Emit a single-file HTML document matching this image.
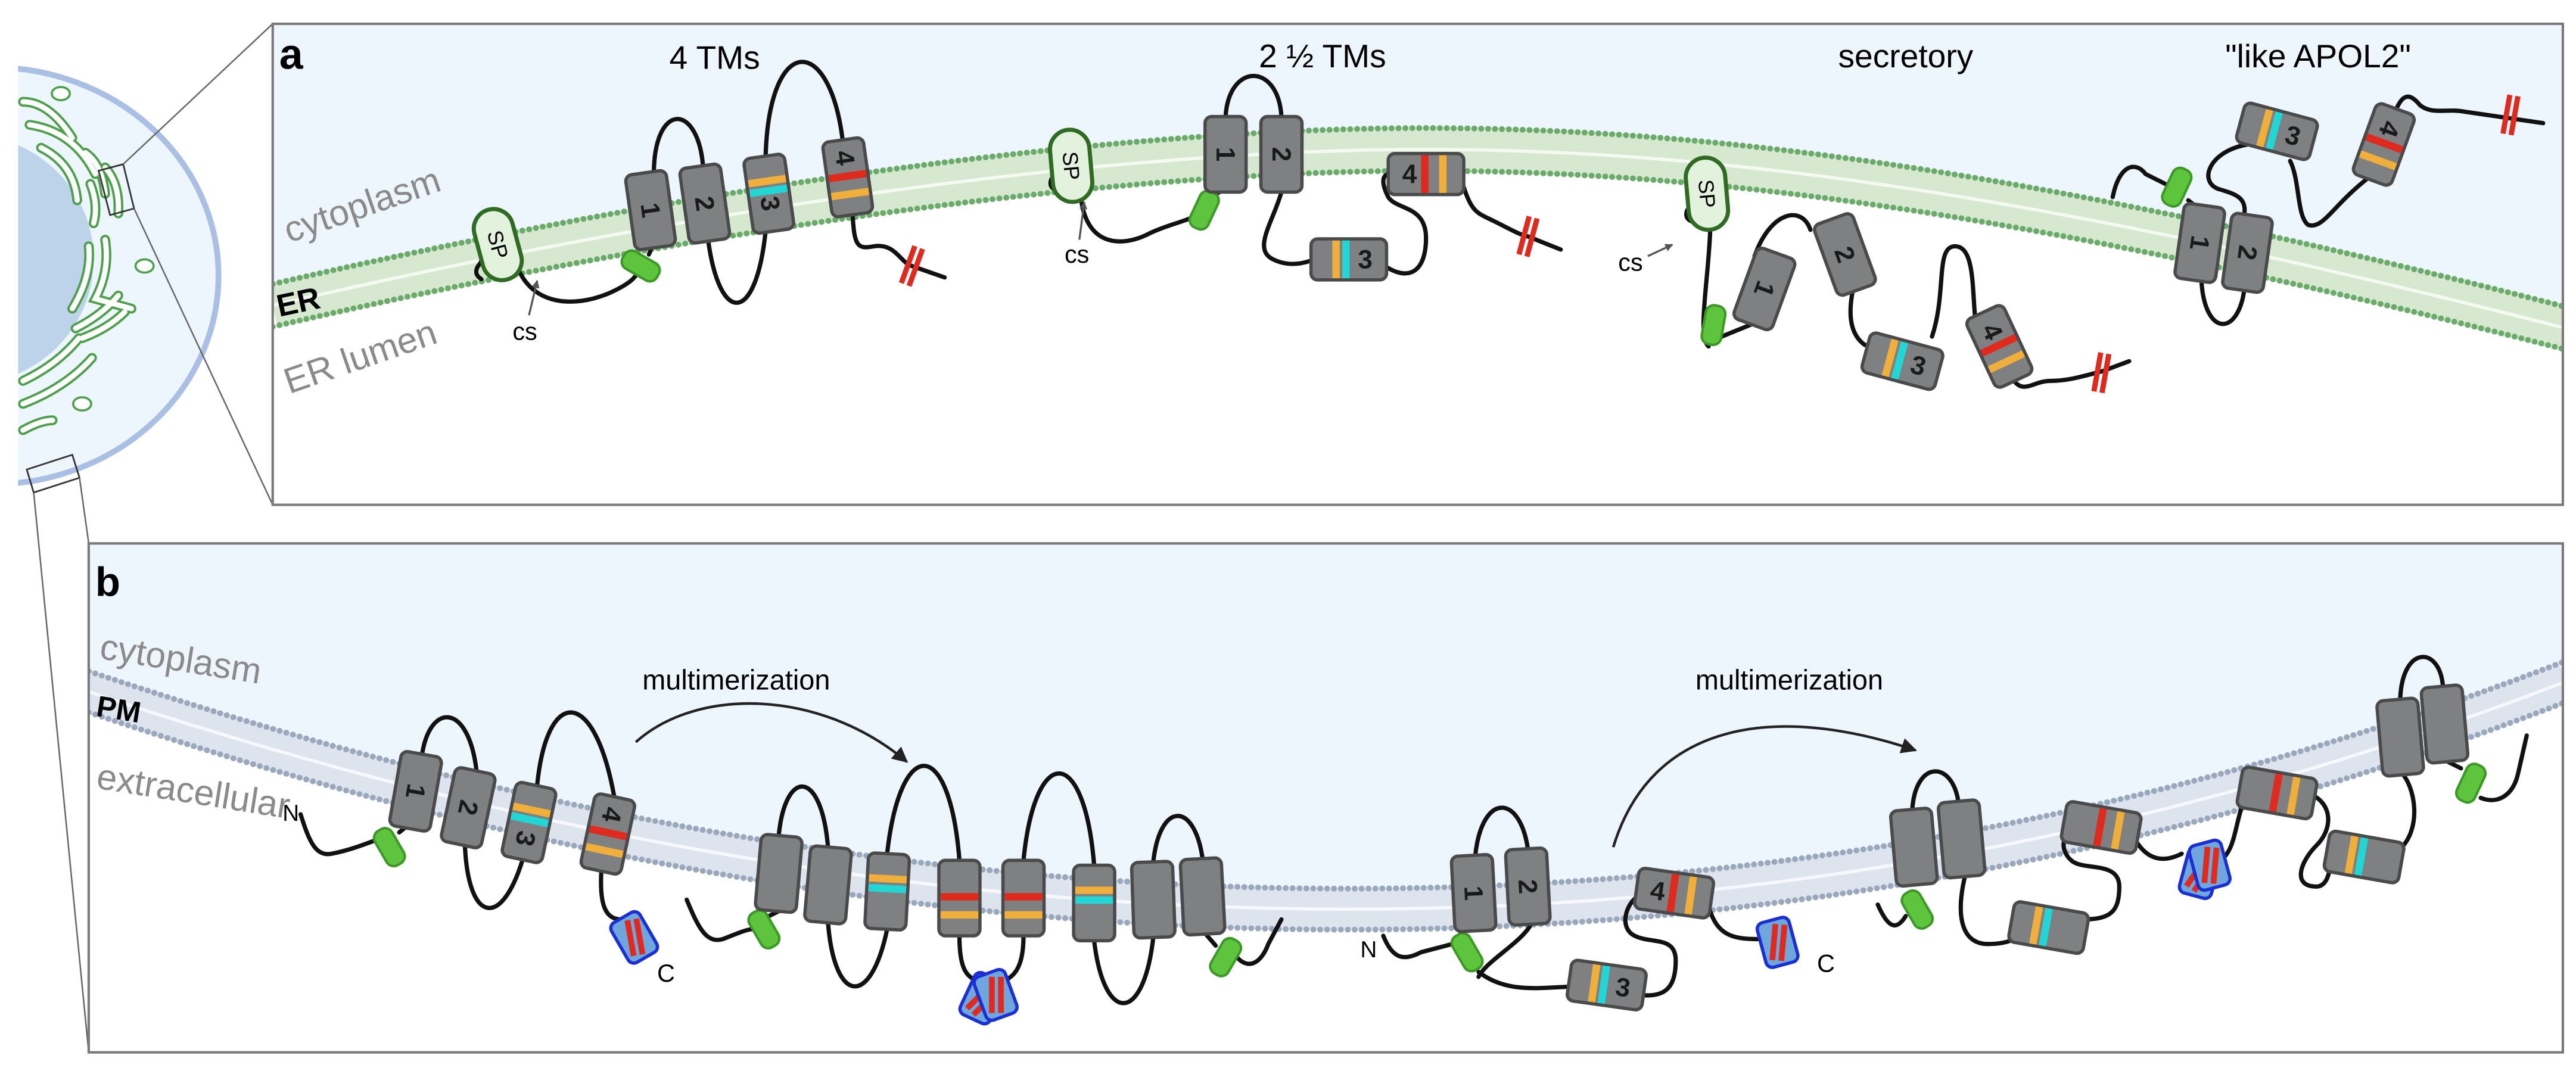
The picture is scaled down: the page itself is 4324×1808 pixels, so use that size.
<!DOCTYPE html>
<html><head><meta charset="utf-8"><style>html,body{margin:0;padding:0;background:#fff}svg{display:block}</style></head>
<body>
<svg width="4324" height="1808" viewBox="0 0 1568 656" preserveAspectRatio="none" xmlns="http://www.w3.org/2000/svg" font-family="Liberation Sans, Arial, sans-serif">
<defs>
<g id="tm"><rect x="-12.5" y="-23" width="25" height="46" rx="4" fill="#7e8082" stroke="#4a4a4a" stroke-width="2"/></g>
<g id="tm3"><rect x="-12.5" y="-23" width="25" height="46" rx="4" fill="#7e8082" stroke="#4a4a4a" stroke-width="2"/><rect x="-11.5" y="-10" width="23" height="4.5" fill="#f0ae3a"/><rect x="-11.5" y="-4" width="23" height="4.5" fill="#22d6d6"/></g>
<g id="tm4"><rect x="-12.5" y="-23" width="25" height="46" rx="4" fill="#7e8082" stroke="#4a4a4a" stroke-width="2"/><rect x="-11.5" y="-3" width="23" height="4.5" fill="#e02a1e"/><rect x="-11.5" y="8" width="23" height="4.5" fill="#f0ae3a"/></g>
<g id="gr"><rect x="-12" y="-6" width="24" height="12" rx="5" fill="#5ec43e" stroke="#3a9a25" stroke-width="1.5"/></g>
<g id="rt"><rect x="-4" y="-12" width="3.2" height="24" fill="#e02a1e"/><rect x="1" y="-12" width="3.2" height="24" fill="#e02a1e"/></g>
<g id="bl"><rect x="-10" y="-14" width="20" height="28" rx="4" fill="#6fa6dc" stroke="#1b2fd6" stroke-width="2"/><rect x="-11" y="-4" width="22" height="3.5" fill="#e02a1e" transform="rotate(-70)"/><rect x="-11" y="1.5" width="22" height="3.5" fill="#e02a1e" transform="rotate(-70)"/></g>
<marker id="ah" viewBox="0 0 10 10" refX="9" refY="5" markerWidth="6" markerHeight="6" orient="auto"><path d="M0,0 L10,5 L0,10 Z" fill="#222"/></marker>
<marker id="ah2" viewBox="0 0 10 10" refX="9" refY="5" markerWidth="4" markerHeight="4" orient="auto"><path d="M0,0 L10,5 L0,10 Z" fill="#555"/></marker>
<clipPath id="cellclip"><rect x="11" y="0" width="200" height="656"/></clipPath>
<clipPath id="pa"><rect x="166" y="14.5" width="1394" height="293"/></clipPath>
<clipPath id="pb"><rect x="54" y="331" width="1506" height="310"/></clipPath>
</defs>

<!-- Cell -->
<g clip-path="url(#cellclip)">
<ellipse cx="-5" cy="168" rx="138" ry="127" fill="#edf5fd" stroke="#a9c0e4" stroke-width="3.5"/>
<ellipse cx="-20" cy="158" rx="77" ry="76" fill="#bcd3ea"/>
<g fill="none" stroke-linecap="round">
<g stroke="#4da04a" stroke-width="6">
<path d="M14,62 Q30,62 44,84"/><path d="M18,76 Q45,80 58,106"/><path d="M25,90 Q45,100 47,122"/>
<path d="M52,93 Q62,100 64,118"/><path d="M64,102 Q73,112 72,130"/><path d="M55,112 Q60,125 57,136"/>
<path d="M54,150 Q56,168 44,188"/><path d="M64,146 Q67,165 58,182 L80,188"/><path d="M46,200 Q62,192 72,180"/>
<path d="M50,206 Q66,200 76,190"/><path d="M14,232 Q35,222 48,206"/><path d="M14,246 Q40,236 56,218"/><path d="M14,262 Q25,256 32,256"/>
</g>
<g stroke="#fff" stroke-width="3.2">
<path d="M14,62 Q30,62 44,84"/><path d="M18,76 Q45,80 58,106"/><path d="M25,90 Q45,100 47,122"/>
<path d="M52,93 Q62,100 64,118"/><path d="M64,102 Q73,112 72,130"/><path d="M55,112 Q60,125 57,136"/>
<path d="M54,150 Q56,168 44,188"/><path d="M64,146 Q67,165 58,182 L80,188"/><path d="M46,200 Q62,192 72,180"/>
<path d="M50,206 Q66,200 76,190"/><path d="M14,232 Q35,222 48,206"/><path d="M14,246 Q40,236 56,218"/><path d="M14,262 Q25,256 32,256"/>
</g>
<g stroke="#4da04a" stroke-width="1.3" fill="#fff"><ellipse cx="37" cy="57" rx="5.5" ry="4"/><ellipse cx="88" cy="162" rx="5.5" ry="4"/><ellipse cx="50" cy="246" rx="5.5" ry="4"/></g>
</g>
</g>
<path d="M60,104 L75,100 L81.6,127 L67,131 Z" fill="none" stroke="#333" stroke-width="1"/>
<path d="M16.3,286 L44,277 L48.4,291 L20.5,300 Z" fill="none" stroke="#333" stroke-width="1"/>
<g stroke="#666" stroke-width="0.9"><line x1="75" y1="100" x2="166" y2="14.5"/><line x1="81.6" y1="127" x2="166" y2="307.5"/><line x1="48.4" y1="291" x2="54" y2="331"/><line x1="20.5" y1="300" x2="54" y2="641"/></g>

<!-- Panel a -->
<g clip-path="url(#pa)">
<rect x="166" y="14.5" width="1394" height="293" fill="#fff"/>
<path d="M166,14 H1562 V200 C1250,120 1050,91 867,91 C700,91 450,120 166,186 Z" fill="#edf6fd"/>
<path d="M166,186 C450,120 700,91 867,91 C1050,91 1250,120 1562,200" fill="none" stroke="#d6e9d0" stroke-width="28"/>
<path d="M166,186 C450,120 700,91 867,91 C1050,91 1250,120 1562,200" fill="none" stroke="#f4faf2" stroke-width="2"/>
<path d="M166,173 C450,107 700,78 867,78 C1050,78 1250,107 1562,187" fill="none" stroke="#6aaa6a" stroke-width="3.6" stroke-dasharray="0 4.2" stroke-linecap="round"/>
<path d="M166,199 C450,133 700,104 867,104 C1050,104 1250,133 1562,213" fill="none" stroke="#6aaa6a" stroke-width="3.6" stroke-dasharray="0 4.2" stroke-linecap="round"/>

<text x="170" y="42" font-size="26" font-weight="bold">a</text>
<text x="435" y="42" font-size="20" text-anchor="middle">4 TMs</text>
<text x="805" y="41" font-size="20" text-anchor="middle">2 ½  TMs</text>
<text x="1160" y="41" font-size="20" text-anchor="middle">secretory</text>
<text x="1411" y="41" font-size="20" text-anchor="middle">"like APOL2"</text>
<text transform="translate(176,148) rotate(-19)" font-size="22" fill="#8a8a8a">cytoplasm</text>
<text transform="translate(170,193) rotate(-12)" font-size="19" font-weight="bold">ER</text>
<text transform="translate(176,240) rotate(-19)" font-size="22" fill="#8a8a8a">ER lumen</text>

<g fill="none" stroke="#111" stroke-width="2.6" stroke-linecap="round">
<path d="M293,170 q-5,-3 -2,-8 q4,-4 1,-9"/>
<path d="M312,152 C318,188 350,188 372,178 C385,172 388,168 390,162"/>
<path d="M395,155 L397,150"/>
<path d="M398,106 C398,62 425,62 428,102"/>
<path d="M431,146 C438,198 460,198 466,141"/>
<path d="M466,96 C468,20 505,20 513,86"/>
<path d="M519,131 C520,150 522,152 532,150 C545,148 548,160 555,162 L575,169"/>
<path d="M643,116 q-5,-2 -3,-7 q3,-3 1,-7"/>
<path d="M658,121 C662,152 685,150 700,142 C715,135 725,135 732,128"/>
<path d="M737,120 L744,116"/>
<path d="M746,71 C748,38 778,38 780,71"/>
<path d="M780,117 C775,135 762,152 775,158 C785,163 795,160 800,158"/>
<path d="M843,162 C858,172 868,165 868,145 C868,125 850,128 845,120 C840,110 842,106 846,106"/>
<path d="M891,114 C896,130 900,130 910,135 C920,140 925,143 930,144 L950,152"/>
<path d="M1030,135 q-5,-2 -3,-7 q3,-3 1,-7"/>
<path d="M1041,140 C1040,170 1033,205 1040,211"/>
<path d="M1048,205 L1070,196"/>
<path d="M1068,156 C1078,128 1097,125 1102,140"/>
<path d="M1128,176 C1124,195 1128,205 1135,210 C1140,212 1140,215 1140,218"/>
<path d="M1176,205 C1185,178 1178,150 1190,150 C1203,150 1200,180 1203,200"/>
<path d="M1226,232 C1232,240 1238,232 1248,232 C1258,232 1265,230 1280,226 L1296,220"/>
<path d="M1286,120 C1290,100 1300,98 1306,106 L1318,112"/>
<path d="M1332,122 L1337,126"/>
<path d="M1340,171 C1342,205 1362,205 1366,177"/>
<path d="M1366,131 C1368,120 1360,118 1350,115 C1338,110 1345,92 1368,88"/>
<path d="M1394,98 C1400,110 1398,132 1405,137 C1414,140 1420,125 1442,108"/>
<path d="M1458,68 C1463,55 1468,58 1473,64 C1480,70 1490,66 1500,68 L1548,75"/>
</g>

<g transform="translate(303,149) rotate(-15)"><rect x="-12" y="-22" width="24" height="44" rx="12" fill="#e2f2dc" stroke="#2f6b22" stroke-width="2.5"/><text transform="rotate(90)" font-size="13" text-anchor="middle" y="4.5">SP</text></g>
<g transform="translate(652,101) rotate(-5)"><rect x="-12" y="-22" width="24" height="44" rx="12" fill="#e2f2dc" stroke="#2f6b22" stroke-width="2.5"/><text transform="rotate(90)" font-size="13" text-anchor="middle" y="4.5">SP</text></g>
<g transform="translate(1039,118) rotate(-5)"><rect x="-12" y="-22" width="24" height="44" rx="12" fill="#e2f2dc" stroke="#2f6b22" stroke-width="2.5"/><text transform="rotate(90)" font-size="13" text-anchor="middle" y="4.5">SP</text></g>
<text x="312" y="207" font-size="15">cs</text>
<line x1="322" y1="192" x2="327" y2="171" stroke="#555" stroke-width="1.2" marker-end="url(#ah2)"/>
<text x="648" y="160" font-size="15">cs</text>
<line x1="657" y1="146" x2="660" y2="123" stroke="#555" stroke-width="1.2" marker-end="url(#ah2)"/>
<text x="985" y="165" font-size="15">cs</text>
<line x1="1003" y1="156" x2="1018" y2="149" stroke="#555" stroke-width="1.2" marker-end="url(#ah2)"/>

<use href="#gr" transform="translate(390,162) rotate(30)"/>
<use href="#gr" transform="translate(733,128) rotate(-65)"/>
<use href="#gr" transform="translate(1043,198) rotate(-80)"/>
<use href="#gr" transform="translate(1325,114) rotate(-65)"/>
<use href="#rt" transform="translate(555,162) rotate(20)"/>
<use href="#rt" transform="translate(930,144) rotate(15)"/>
<use href="#rt" transform="translate(1279,227) rotate(10)"/>
<use href="#rt" transform="translate(1528,70) rotate(10)"/>

<g font-size="16" font-weight="bold" fill="#1a1a1a" text-anchor="middle">
<g transform="translate(396,128) rotate(-8)"><use href="#tm"/><text transform="rotate(90)" y="5.5">1</text></g>
<g transform="translate(429,124) rotate(-8)"><use href="#tm"/><text transform="rotate(90)" y="5.5">2</text></g>
<g transform="translate(468,118) rotate(-8)"><use href="#tm3"/><text transform="rotate(90)" x="6" y="5.5">3</text></g>
<g transform="translate(516,108) rotate(-8)"><use href="#tm4"/><text transform="rotate(90)" x="-12" y="5.5">4</text></g>

<g transform="translate(746,94)"><use href="#tm"/><text transform="rotate(90)" y="5.5">1</text></g>
<g transform="translate(780,94)"><use href="#tm"/><text transform="rotate(90)" y="5.5">2</text></g>
<g transform="translate(821,158) rotate(-90)"><use href="#tm3"/><text transform="rotate(90)" x="10" y="5.5">3</text></g>
<g transform="translate(868,106) rotate(-90)"><use href="#tm4"/><text transform="rotate(90)" x="-10" y="5.5">4</text></g>

<g transform="translate(1074,176) rotate(20)"><use href="#tm"/><text transform="rotate(90)" y="5.5">1</text></g>
<g transform="translate(1123,155) rotate(-20)"><use href="#tm"/><text transform="rotate(90)" y="5.5">2</text></g>
<g transform="translate(1158,220) rotate(-75)"><use href="#tm3"/><text transform="rotate(90)" x="10" y="5.5">3</text></g>
<g transform="translate(1217,211) rotate(-25)"><use href="#tm4"/><text transform="rotate(90)" x="-10" y="5.5">4</text></g>

<g transform="translate(1339,148) rotate(8)"><use href="#tm"/><text transform="rotate(90)" y="5.5">1</text></g>
<g transform="translate(1368,154) rotate(8)"><use href="#tm"/><text transform="rotate(90)" y="5.5">2</text></g>
<g transform="translate(1386,80) rotate(-75)"><use href="#tm3"/><text transform="rotate(90)" x="10" y="5.5">3</text></g>
<g transform="translate(1451,88) rotate(20)"><use href="#tm4"/><text transform="rotate(90)" x="-10" y="5.5">4</text></g>
</g>
</g>
<rect x="166" y="14.5" width="1394" height="293" fill="none" stroke="#7a7a7a" stroke-width="1.5"/>

<!-- Panel b -->
<g clip-path="url(#pb)">
<rect x="54" y="331" width="1506" height="310" fill="#fff"/>
<path d="M54,331 H1562 V415 Q850,690 50,420 Z" fill="#edf6fd"/>
<path d="M50,420 Q850,690 1562,415" fill="none" stroke="#dde4ee" stroke-width="26"/>
<path d="M50,420 Q850,690 1562,415" fill="none" stroke="#f6f8fb" stroke-width="2"/>
<path d="M50,407.5 Q850,677.5 1562,402.5" fill="none" stroke="#9aa8bc" stroke-width="3.6" stroke-dasharray="0 4.2" stroke-linecap="round"/>
<path d="M50,432.5 Q850,702.5 1562,427.5" fill="none" stroke="#9aa8bc" stroke-width="3.6" stroke-dasharray="0 4.2" stroke-linecap="round"/>

<text x="58" y="363" font-size="25" font-weight="bold">b</text>
<text transform="translate(60,401) rotate(9)" font-size="22" fill="#8a8a8a">cytoplasm</text>
<text transform="translate(58,436) rotate(9)" font-size="18" font-weight="bold">PM</text>
<text transform="translate(58,480) rotate(9)" font-size="22" fill="#8a8a8a">extracellular</text>

<text x="391" y="420" font-size="17">multimerization</text>
<path d="M387,452 C425,418 500,420 552,464" fill="none" stroke="#222" stroke-width="1.6" marker-end="url(#ah)"/>
<text x="1032" y="420" font-size="17">multimerization</text>
<path d="M982,516 C1005,440 1080,428 1166,457" fill="none" stroke="#222" stroke-width="1.6" marker-end="url(#ah)"/>

<text x="172" y="500" font-size="14">N</text>
<text x="400" y="598" font-size="15">C</text>
<text x="828" y="583" font-size="14">N</text>
<text x="1106" y="592" font-size="15">C</text>

<g fill="none" stroke="#111" stroke-width="2.6" stroke-linecap="round">
<path d="M183,496 C188,512 192,522 202,520 C212,518 220,515 228,512"/>
<path d="M243,507 L248,503"/>
<path d="M257,459 C262,428 285,428 290,469"/>
<path d="M283,515 C285,562 305,566 318,524"/>
<path d="M327,478 C333,418 362,418 374,486"/>
<path d="M366,531 C365,550 368,560 378,560"/>
<path d="M418,548 C425,565 430,575 440,572 C450,568 455,566 458,566"/>
<path d="M468,558 L474,555"/>
<path d="M474,509 C478,468 500,468 504,516"/>
<path d="M540,520 C548,448 578,448 584,524"/>
<path d="M623,524 C630,453 660,453 666,527"/>
<path d="M702,525 C706,488 727,488 732,523"/>
<path d="M504,562 C508,612 530,614 540,566"/>
<path d="M666,573 C672,624 696,624 702,571"/>
<path d="M584,570 C584,590 588,595 596,598"/>
<path d="M623,570 C623,590 617,595 610,598"/>
<path d="M734,569 L740,576"/>
<path d="M752,582 C760,592 768,586 772,575 L780,560"/>
<path d="M842,570 C848,585 855,585 865,580 L884,575"/>
<path d="M898,521 C902,483 925,483 930,517"/>
<path d="M932,563 C925,575 905,585 900,595"/>
<path d="M900,592 C918,606 940,601 958,601"/>
<path d="M998,606 C1015,608 1020,600 1020,585 C1020,570 1005,575 995,570 C985,565 990,550 997,546"/>
<path d="M1040,552 C1045,570 1055,572 1070,572"/>
<path d="M1143,551 C1150,567 1155,566 1160,558"/>
<path d="M1164,493 C1166,463 1188,463 1192,488"/>
<path d="M1196,534 C1190,560 1195,575 1210,575 C1225,575 1230,570 1232,566"/>
<path d="M1268,560 C1285,560 1290,555 1290,540 C1290,525 1270,530 1262,525 C1255,520 1255,512 1258,510"/>
<path d="M1300,512 C1308,525 1318,525 1328,520"/>
<path d="M1350,525 C1360,520 1360,505 1365,490"/>
<path d="M1407,484 C1420,490 1420,505 1410,515 C1400,525 1395,540 1410,540 C1415,540 1417,535 1418,530"/>
<path d="M1460,518 C1475,505 1470,478 1461,470"/>
<path d="M1461,426 C1462,393 1485,393 1487,418"/>
<path d="M1490,464 L1498,468"/>
<path d="M1510,486 C1520,490 1530,485 1533,470 L1538,448"/>
</g>

<use href="#gr" transform="translate(237,516) rotate(60)"/>
<use href="#gr" transform="translate(465,566) rotate(60)"/>
<use href="#gr" transform="translate(746,583) rotate(-60)"/>
<use href="#gr" transform="translate(893,580) rotate(60)"/>
<use href="#gr" transform="translate(1167,554) rotate(60)"/>
<use href="#gr" transform="translate(1504,477) rotate(-65)"/>
<use href="#bl" transform="translate(386,571) rotate(-30)"/>
<use href="#bl" transform="translate(598,608) rotate(25)"/>
<use href="#bl" transform="translate(606,606) rotate(-20)"/>
<use href="#bl" transform="translate(1082,574) rotate(-15)"/>
<use href="#bl" transform="translate(1339,532) rotate(15)"/>
<use href="#bl" transform="translate(1345,527) rotate(-15)"/>

<g font-size="16" font-weight="bold" fill="#1a1a1a" text-anchor="middle">
<g transform="translate(253,482) rotate(10)"><use href="#tm"/><text transform="rotate(90)" y="5.5">1</text></g>
<g transform="translate(285,492) rotate(12)"><use href="#tm"/><text transform="rotate(90)" y="5.5">2</text></g>
<g transform="translate(322,501) rotate(12)"><use href="#tm3"/><text transform="rotate(90)" x="10" y="5.5">3</text></g>
<g transform="translate(370,508) rotate(12)"><use href="#tm4"/><text transform="rotate(90)" x="-12" y="5.5">4</text></g>

<g transform="translate(474,532) rotate(5)"><use href="#tm"/></g>
<g transform="translate(504,539) rotate(5)"><use href="#tm"/></g>
<g transform="translate(540,543) rotate(3)"><use href="#tm3"/></g>
<g transform="translate(584,547)"><use href="#tm4"/></g>
<g transform="translate(623,547)"><use href="#tm4"/></g>
<g transform="translate(666,550)"><use href="#tm3"/></g>
<g transform="translate(702,548) rotate(-2)"><use href="#tm"/></g>
<g transform="translate(732,546) rotate(-3)"><use href="#tm"/></g>

<g transform="translate(897,544) rotate(-3)"><use href="#tm"/><text transform="rotate(90)" y="5.5">1</text></g>
<g transform="translate(930,540) rotate(-3)"><use href="#tm"/><text transform="rotate(90)" y="5.5">2</text></g>
<g transform="translate(978,600) rotate(-82)"><use href="#tm3"/><text transform="rotate(90)" x="10" y="5.5">3</text></g>
<g transform="translate(1019,544) rotate(-82)"><use href="#tm4"/><text transform="rotate(90)" x="-10" y="5.5">4</text></g>

<g transform="translate(1165,516) rotate(-5)"><use href="#tm"/></g>
<g transform="translate(1194,511) rotate(-5)"><use href="#tm"/></g>
<g transform="translate(1247,565) rotate(-80)"><use href="#tm3"/></g>
<g transform="translate(1279,504) rotate(-80)"><use href="#tm4"/></g>
<g transform="translate(1386,483) rotate(-80)"><use href="#tm4"/></g>
<g transform="translate(1439,522) rotate(-80)"><use href="#tm3"/></g>
<g transform="translate(1461,449) rotate(-5)"><use href="#tm"/></g>
<g transform="translate(1488,441) rotate(-5)"><use href="#tm"/></g>
</g>
</g>
<rect x="54" y="331" width="1506" height="310" fill="none" stroke="#7a7a7a" stroke-width="1.5"/>
</svg>
</body></html>
